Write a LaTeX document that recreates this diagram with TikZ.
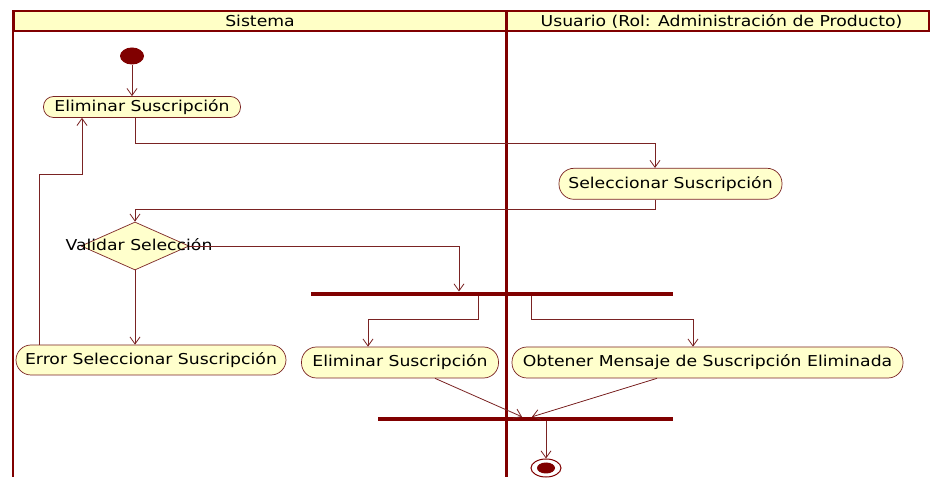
\documentclass[tikz,border=0pt]{standalone}
\usepackage{fontspec}
\setmainfont{DejaVu Sans}[FakeStretch=1.15]
\usetikzlibrary{shapes.geometric,arrows.meta,positioning}
\definecolor{umlred}{HTML}{800000}
\definecolor{umlline}{HTML}{7A2323}
\definecolor{umlfill}{HTML}{FFFFCC}
\definecolor{headfill}{HTML}{FFFFC6}

\begin{document}
\begin{tikzpicture}[x=1pt,y=-1pt]
\tikzstyle{every node}+=[inner sep=0pt,font=\fontsize{15}{18}\selectfont]
\tikzstyle{lanehead}=[draw=umlred,fill=headfill,line width=1.5pt,minimum height=20pt]
\tikzstyle{act}=[draw=umlline,fill=umlfill,line width=0.7pt,rounded corners=15pt,minimum height=31pt]
\tikzstyle{decision}=[diamond,draw=umlline,fill=umlfill,line width=0.7pt,minimum width=108pt,minimum height=48pt]
\tikzstyle{bar}=[fill=umlred,minimum height=4pt]
\tikzstyle{flow}=[draw=umlline,line width=0.8pt,-{Straight Barb[length=7pt,width=10pt]}]
\useasboundingbox (0,0) rectangle (930,478);
\fill [white] (0,0) rectangle (930,478);
\node [lanehead,minimum width=492pt] (sishead) at (260,21) {Sistema};
\node [lanehead,minimum width=423pt] (usrhead) at (717.5,21) {\hspace*{8pt}Usuario (Rol: Administración de Producto)};
\draw [umlred,line width=2.2pt] (sishead.north west) -- ++(0,467);
\draw [umlred,line width=3pt] (sishead.north east) -- ++(0,467);
\node [ellipse,fill=umlred,minimum width=24pt,minimum height=17pt] (ini) at (132,56) {};
\node [act,rounded corners=10pt,minimum width=197pt,minimum height=21pt] (elim1) at (142,107) {Eliminar Suscripción};
\node [act,rounded corners=15pt,minimum width=223pt] (selec) at (670.5,183.8) {Seleccionar Suscripción};
\node [decision] (valid) at (135,246) {};
\node (validtxt) at (139,245) {Validar Selección};
\node [act,minimum width=270pt,minimum height=30pt] (error) at (151,360) {Error Seleccionar Suscripción};
\node [bar,minimum width=362pt] (fork) at (492,293.7) {};
\node [act,minimum width=197pt] (elim2) at (400,362.5) {Eliminar Suscripción};
\node [act,minimum width=391pt] (obt) at (707.5,362.5) {Obtener Mensaje de Suscripción Eliminada};
\node [bar,minimum width=295pt] (join) at (525.5,419) {};
\node [ellipse,draw=umlred,fill=white,line width=1pt,minimum width=30pt,minimum height=18pt] (fin) at (546,468) {};
\node [ellipse,fill=umlred,minimum width=18pt,minimum height=11pt] (finin) at (fin) {};
\draw [flow] (ini.south) -- (ini.south |- elim1.north);
\draw [flow] ([xshift=-7pt]elim1.south) -- ++(0,25.5) -| ([xshift=-15.5pt]selec.north);
\draw [flow] ([xshift=-15.5pt]selec.south) -- ++(0,10) -| (valid.north);
\draw [flow] (valid.east) -| ([xshift=-33pt]fork.north);
\draw [flow] (valid.south) -- (valid.south |- error.north);
\draw [flow] ([xshift=-112pt]error.north) -- ++(0,-170) -| ([xshift=-60pt]elim1.south);
\draw [flow] ([xshift=-14pt]fork.south) -- ++(0,23.3) -| ([xshift=-32pt]elim2.north);
\draw [flow] ([xshift=39pt]fork.south) -- ++(0,23.3) -| ([xshift=-14.5pt]obt.north);
\draw [flow] ([xshift=35pt]elim2.south) -- ([xshift=-3.5pt]join.north);
\draw [flow] ([xshift=-50.5pt]obt.south) -- ([xshift=6.5pt]join.north);
\draw [flow] (fin.north |- join.south) -- (fin.north);
\end{tikzpicture}
\end{document}
